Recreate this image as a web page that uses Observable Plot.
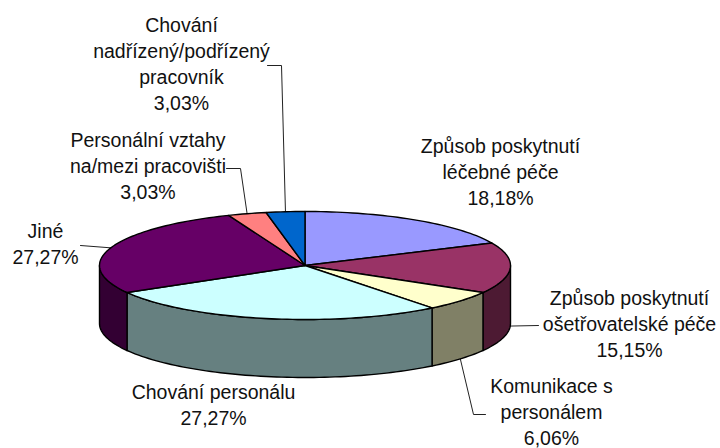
<!DOCTYPE html>
<html>
<head>
<meta charset="utf-8">
<script src="https://cdn.jsdelivr.net/npm/d3@7"></script>
<script src="https://cdn.jsdelivr.net/npm/@observablehq/plot@0.6"></script>
<style>html,body{margin:0;padding:0;background:#fff}svg{display:block}</style>
</head>
<body>
<div id="chart"></div>
<script>
// Data
const categories = [
  "Způsob poskytnutí\nléčebné péče",
  "Způsob poskytnutí\nošetřovatelské péče",
  "Komunikace s\npersonálem",
  "Chování personálu",
  "Jiné",
  "Personální vztahy\nna/mezi pracovišti",
  "Chování\nnadřízený/podřízený\npracovník"
];
const shares = [18.18, 15.15, 6.06, 27.27, 27.27, 3.03, 3.03];
const topColors = ["#9999FF", "#993366", "#FFFFCC", "#CCFFFF", "#660066", "#FF8080", "#0066CC"];
const sideColors = ["#4D4D80", "#4D1A33", "#808066", "#668080", "#330033", "#804040", "#003366"];

// Pie layout (in chart pixels, mapped through the x/y scales)
const cx = 304.5, cy = 265, rx = 205.5, ry = 54, depth = 58;
const total = d3.sum(shares);
const pt = (deg, dy = 0) => {
  const a = deg * Math.PI / 180;
  return {x: cx + rx * Math.sin(a), y: cy - ry * Math.cos(a) + dy};
};
const arcPts = (a0, a1, dy = 0) => {
  const n = Math.max(2, Math.ceil((a1 - a0) / 1.5));
  return d3.range(n + 1).map(i => pt(a0 + (a1 - a0) * i / n, dy));
};

let cum = 0;
const slices = shares.map((s, i) => {
  const a0 = cum / total * 360;
  cum += s;
  return {i, a0, a1: cum / total * 360, mid: (a0 + cum / total * 360) / 2};
});

const topRows = slices.flatMap(s =>
  [{x: cx, y: cy}, ...arcPts(s.a0, s.a1)].map(p => ({...p, key: "t" + s.i})));
const sideRows = slices.flatMap(s => {
  const a0 = Math.max(s.a0, 90), a1 = Math.min(s.a1, 270);
  if (a1 <= a0) return [];
  return [...arcPts(a0, a1), ...arcPts(a0, a1, depth).reverse()].map(p => ({...p, key: "s" + s.i}));
});

// Label placement: index into categories, text anchor, leader elbow points, whether leader starts at the wall bottom
const labels = [
  {i: 0, x: 500, y: 170},
  {i: 1, x: 629, y: 322, dy: depth, elbow: [[538, 325]]},
  {i: 2, x: 551, y: 410, dy: depth, elbow: [[473, 414], [485, 414]]},
  {i: 3, x: 213, y: 403},
  {i: 4, x: 45, y: 242, elbow: [[80, 245]]},
  {i: 5, x: 147.5, y: 164, elbow: [[240, 168], [226, 168]]},
  {i: 6, x: 181, y: 62, elbow: [[281, 65], [267, 65]]}
];
const fmt = v => v.toFixed(2).replace(".", ",") + "%";
const labelRows = labels.map(l => ({...l, text: categories[l.i] + "\n" + fmt(shares[l.i])}));
const leaderRows = labels.filter(l => l.elbow).flatMap(l => {
  const s = pt(slices[l.i].mid, l.dy || 0);
  return [s, ...l.elbow.map(([x, y]) => ({x, y}))].map(p => ({...p, key: l.i}));
});

const colorDomain = [...slices.map(s => "t" + s.i), ...slices.map(s => "s" + s.i)];
const colorRange = [...topColors, ...sideColors];

const chart = Plot.plot({
  width: 720,
  height: 448,
  margin: 0,
  x: {domain: [0, 720], axis: null},
  y: {domain: [448, 0], axis: null},
  color: {type: "ordinal", domain: colorDomain, range: colorRange},
  style: {background: "#fff"},
  marks: [
    Plot.line(leaderRows, {x: "x", y: "y", z: "key", stroke: "#222", strokeWidth: 1}),
    Plot.line(sideRows, {x: "x", y: "y", z: "key", fill: "key", stroke: "#000", strokeWidth: 1.4, curve: "linear-closed"}),
    Plot.line(topRows, {x: "x", y: "y", z: "key", fill: "key", stroke: "#000", strokeWidth: 1.4, curve: "linear-closed"}),
    Plot.text(labelRows, {x: "x", y: "y", text: "text", fontSize: 19.5, fontFamily: "Liberation Sans, Arial, sans-serif", fill: "#111", lineHeight: 1.33, textAnchor: "middle"})
  ]
});
document.getElementById("chart").append(chart);
</script>
</body>
</html>
